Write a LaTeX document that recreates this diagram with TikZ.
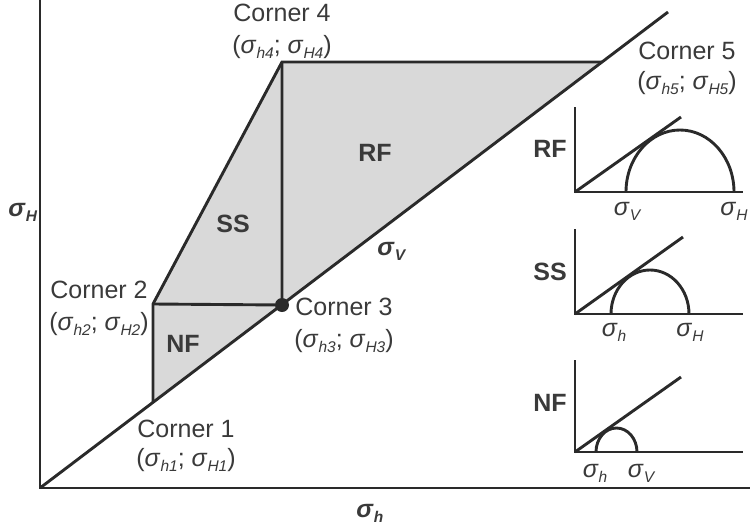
\documentclass[tikz,border=0pt]{standalone}
\usepackage{fontspec}
\setmainfont{Liberation Sans}
\newcommand{\sgm}[1]{\textit{σ}\raisebox{-0.22em}{\fontsize{15.5}{15.5}\selectfont\itshape #1}}
\newcommand{\bsgm}[1]{\textbf{\textit{σ}}\raisebox{-0.22em}{\fontsize{15.5}{15.5}\selectfont\bfseries\itshape #1}}
\definecolor{ink}{HTML}{2A2A2A}
\definecolor{txt}{HTML}{3A3A3A}
\definecolor{regionfill}{HTML}{D9D9D9}
\begin{document}
\begin{tikzpicture}[x=1pt,y=-1pt,line width=2.9pt,
  ln/.style={draw=ink,line join=miter},
  lbl/.style={text=txt,font=\fontsize{25}{29}\selectfont,inner sep=0pt,anchor=base},
  blbl/.style={text=txt,font=\fontsize{25}{29}\selectfont\bfseries,inner sep=0pt}]
\useasboundingbox (0,0) rectangle (750,525);
% main frame
\coordinate (O) at (40,488);
\coordinate (Ytop) at (40,0);
\coordinate (Xend) at (750,488);
\coordinate (Dend) at (668,12);
\coordinate (C1) at (153,402);
\coordinate (C2) at (153,304);
\coordinate (C3) at (282,305);
\coordinate (C4) at (282,62);
\coordinate (C5) at (602,62);
\fill[fill=regionfill] (C1) -- (C2) -- (C4) -- (C5) -- cycle;
\draw[ln] (C1) -- (C2) -- (C4) -- (C5);
\draw[ln] (C2) -- (C3) -- (C4);
\draw[ln] (Ytop) -- (O) -- (Xend);
\draw[ln] (O) -- (Dend);
\fill[ink] (C3) circle (7pt);
% corner labels
\node[lbl] (c4a) at (282,21) {Corner 4};
\node[lbl] (c4b) at (282,53) {(\sgm{h4}; \sgm{H4})};
\node[lbl] (c5a) at (687,59) {Corner 5};
\node[lbl] (c5b) at (687,89) {(\sgm{h5}; \sgm{H5})};
\node[lbl] (c2a) at (99,298) {Corner 2};
\node[lbl] (c2b) at (99,330) {(\sgm{h2}; \sgm{H2})};
\node[lbl] (c3a) at (344,315) {Corner 3};
\node[lbl] (c3b) at (344,347) {(\sgm{h3}; \sgm{H3})};
\node[lbl] (c1a) at (186,437) {Corner 1};
\node[lbl] (c1b) at (186,466) {(\sgm{h1}; \sgm{H1})};
% region labels
\node[blbl] (rf) at (375,153) {RF};
\node[blbl] (ss) at (233,224) {SS};
\node[blbl] (nf) at (183,344) {NF};
\node[lbl,anchor=base west] (sv) at (376,255) {\bsgm{V}};
\node[lbl,anchor=base west] (sH) at (7,216) {\bsgm{H}};
\node[lbl,anchor=base west] (sh) at (355,517) {\bsgm{h}};
% RF inset
\coordinate (rO) at (575,192);
\coordinate (rT) at (575,107);
\coordinate (rX) at (743,192);
\coordinate (rL) at (681,117);
\coordinate (rA) at (626,192);
\draw[ln] (rT) -- (rO) -- (rX);
\draw[ln] (rO) -- (rL);
\draw[ln] (rA) arc[start angle=180,end angle=0,x radius=54pt,y radius=62pt];
\node[blbl] (rfl) at (550,149) {RF};
\node[lbl] (rs1) at (627,215) {\sgm{V}};
\node[lbl] (rs2) at (734,215) {\sgm{H}};
% SS inset
\coordinate (sO) at (575,314);
\coordinate (sT) at (575,229);
\coordinate (sX) at (743,314);
\coordinate (sL) at (683,237);
\coordinate (sA) at (611,314);
\draw[ln] (sT) -- (sO) -- (sX);
\draw[ln] (sO) -- (sL);
\draw[ln] (sA) arc[start angle=180,end angle=0,x radius=39pt,y radius=44pt];
\node[blbl] (ssl) at (550,272) {SS};
\node[lbl] (ss1) at (614,336) {\sgm{h}};
\node[lbl] (ss2) at (690,336) {\sgm{H}};
% NF inset
\coordinate (nO) at (575,452);
\coordinate (nT) at (575,360);
\coordinate (nX) at (743,452);
\coordinate (nL) at (681,377);
\coordinate (nA) at (596,452);
\draw[ln] (nT) -- (nO) -- (nX);
\draw[ln] (nO) -- (nL);
\draw[ln] (nA) arc[start angle=180,end angle=0,x radius=20.5pt,y radius=24pt];
\node[blbl] (nfl) at (550,403) {NF};
\node[lbl] (ns1) at (595,477) {\sgm{h}};
\node[lbl] (ns2) at (641,477) {\sgm{V}};
\end{tikzpicture}
\end{document}
